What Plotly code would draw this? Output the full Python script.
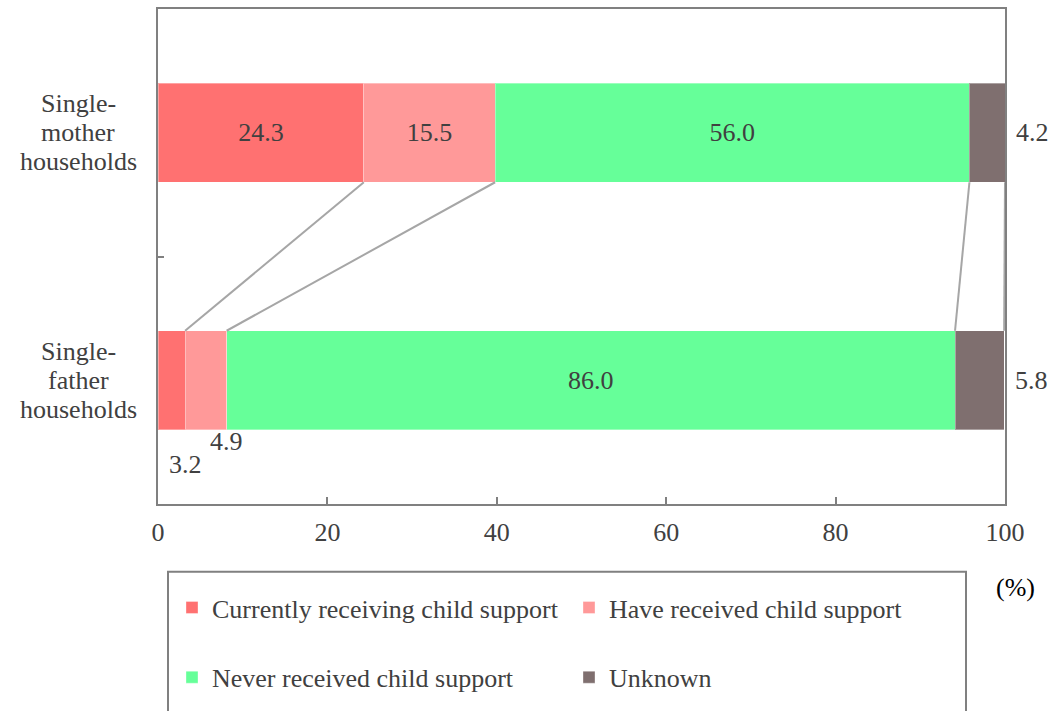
import plotly.graph_objects as go
import numpy as np

# ---- data ----
categories = ["Single-<br>mother<br>households", "Single-<br>father<br>households"]
series_names = ["Currently receiving child support", "Have received child support",
                "Never received child support", "Unknown"]
currently_receiving = [24.3, 3.2]
have_received = [15.5, 4.9]
never_received = [56.0, 86.0]
unknown = [4.2, 5.8]
x_ticks = [0, 20, 40, 60, 80, 100]

colors = ["#FF7171", "#FF9999", "#66FF99", "#7F6F6F"]
text_color = "#404040"
axis_color = "#808080"
FONT = "Liberation Serif, Times New Roman, serif"
FS = 26

series = [currently_receiving, have_received, never_received, unknown]
ypos = list(range(len(categories)))  # 0 = mother (top), 1 = father
bar_w = 0.4

# plot area geometry (pixels)
W, H = 1053, 711
ml, mr, mt, mb = 158, 48, 7, 207
pw = W - ml - mr
ph = H - mt - mb

def px_x(p):
    return (p - ml) / pw

def px_y(p):
    return (H - mb - p) / ph

fig = go.Figure()

# labels drawn below the father bar instead of inside
below = {(0, 1): -84, (1, 1): -61}
last = len(series) - 1

for i, (name, vals) in enumerate(zip(series_names, series)):
    texts = []
    for j, v in enumerate(vals):
        texts.append("" if ((i, j) in below or i == last) else f"{v:.1f}")
    fig.add_trace(go.Bar(
        x=vals, y=ypos, orientation="h", name=name, width=bar_w,
        marker=dict(color=colors[i], line=dict(width=1, color="rgba(255,255,255,0.35)")),
        text=texts,
        textposition="inside",
        insidetextanchor="middle",
        textangle=0,
        constraintext="none",
        cliponaxis=False,
        textfont=dict(family=FONT, size=FS, color=text_color),
        insidetextfont=dict(family=FONT, size=FS, color=text_color),
        legend="legend" if i < 2 else "legend2",
        hoverinfo="x+name",
    ))

# connector lines between cumulative boundaries
cum = np.cumsum(np.array(series), axis=0)  # shape (series, categories)
lx, ly = [], []
for k in range(len(series)):
    lx += [cum[k, 0], cum[k, 1], None]
    ly += [ypos[0] + bar_w / 2, ypos[1] - bar_w / 2, None]
fig.add_trace(go.Scatter(x=lx, y=ly, mode="lines", line=dict(color="#A6A6A6", width=2),
                         showlegend=False, hoverinfo="skip"))

annotations = []
# category labels (one annotation per line for tighter line spacing)
line_gap = 29
for j, c in enumerate(categories):
    parts = c.split("<br>")
    n = len(parts)
    for k, part in enumerate(parts):
        annotations.append(dict(x=px_x(78), xref="paper", y=ypos[j], yref="y", text=part,
                                yshift=((n - 1) / 2 - k) * line_gap,
                                showarrow=False, xanchor="center", yanchor="middle",
                                font=dict(family=FONT, size=FS, color=text_color)))
# small labels below father bar
for (i, j), sh in below.items():
    annotations.append(dict(x=cum[i, j], y=ypos[j], xref="x", yref="y", yshift=sh,
                            text=f"{series[i][j]:.1f}", showarrow=False,
                            font=dict(family=FONT, size=FS, color=text_color)))
# labels for the last segment, right of the bar
for j in range(len(categories)):
    annotations.append(dict(x=cum[last, j], y=ypos[j], xref="x", yref="y", xshift=9,
                            xanchor="left", text=f"{series[last][j]:.1f}", showarrow=False,
                            font=dict(family=FONT, size=FS, color=text_color)))
# unit
annotations.append(dict(x=px_x(1016), xref="paper", y=px_y(588), yref="paper", text="(%)",
                        showarrow=False, xanchor="center", yanchor="middle",
                        font=dict(family=FONT, size=FS, color="#000000")))

legend_common = dict(orientation="h", xanchor="left", yanchor="middle",
                     entrywidth=352, entrywidthmode="pixels", traceorder="normal",
                     font=dict(family=FONT, size=FS, color=text_color),
                     bgcolor="rgba(0,0,0,0)", borderwidth=0, itemclick=False,
                     itemdoubleclick=False)

fig.update_layout(
    width=W, height=H,
    margin=dict(l=ml, r=mr, t=mt, b=mb),
    barmode="stack",
    plot_bgcolor="white", paper_bgcolor="white",
    font=dict(family=FONT, size=FS, color=text_color),
    xaxis=dict(range=[0, 100], tickvals=x_ticks, ticktext=[str(t) for t in x_ticks],
               showgrid=False, zeroline=False, showline=True, mirror=True,
               linecolor=axis_color, linewidth=2, ticks="inside", ticklen=7,
               tickcolor=axis_color, tickwidth=2, ticklabelstandoff=4,
               tickfont=dict(family=FONT, size=FS, color=text_color)),
    yaxis=dict(range=[len(categories) - 0.5, -0.5], tickvals=[0.5], ticktext=[""],
               showgrid=False, zeroline=False, showline=True, mirror=True,
               linecolor=axis_color, linewidth=2, ticks="inside", ticklen=6,
               tickcolor=axis_color, tickwidth=2),
    legend=dict(x=px_x(172), y=px_y(608), **legend_common),
    legend2=dict(x=px_x(172), y=px_y(678), **legend_common),
    annotations=annotations,
    shapes=[dict(type="rect", xref="paper", yref="paper",
                 x0=px_x(168), x1=px_x(966), y0=px_y(572), y1=px_y(730),
                 line=dict(color=axis_color, width=2), fillcolor="rgba(0,0,0,0)")],
    showlegend=True,
)

fig.write_html("out.html")
